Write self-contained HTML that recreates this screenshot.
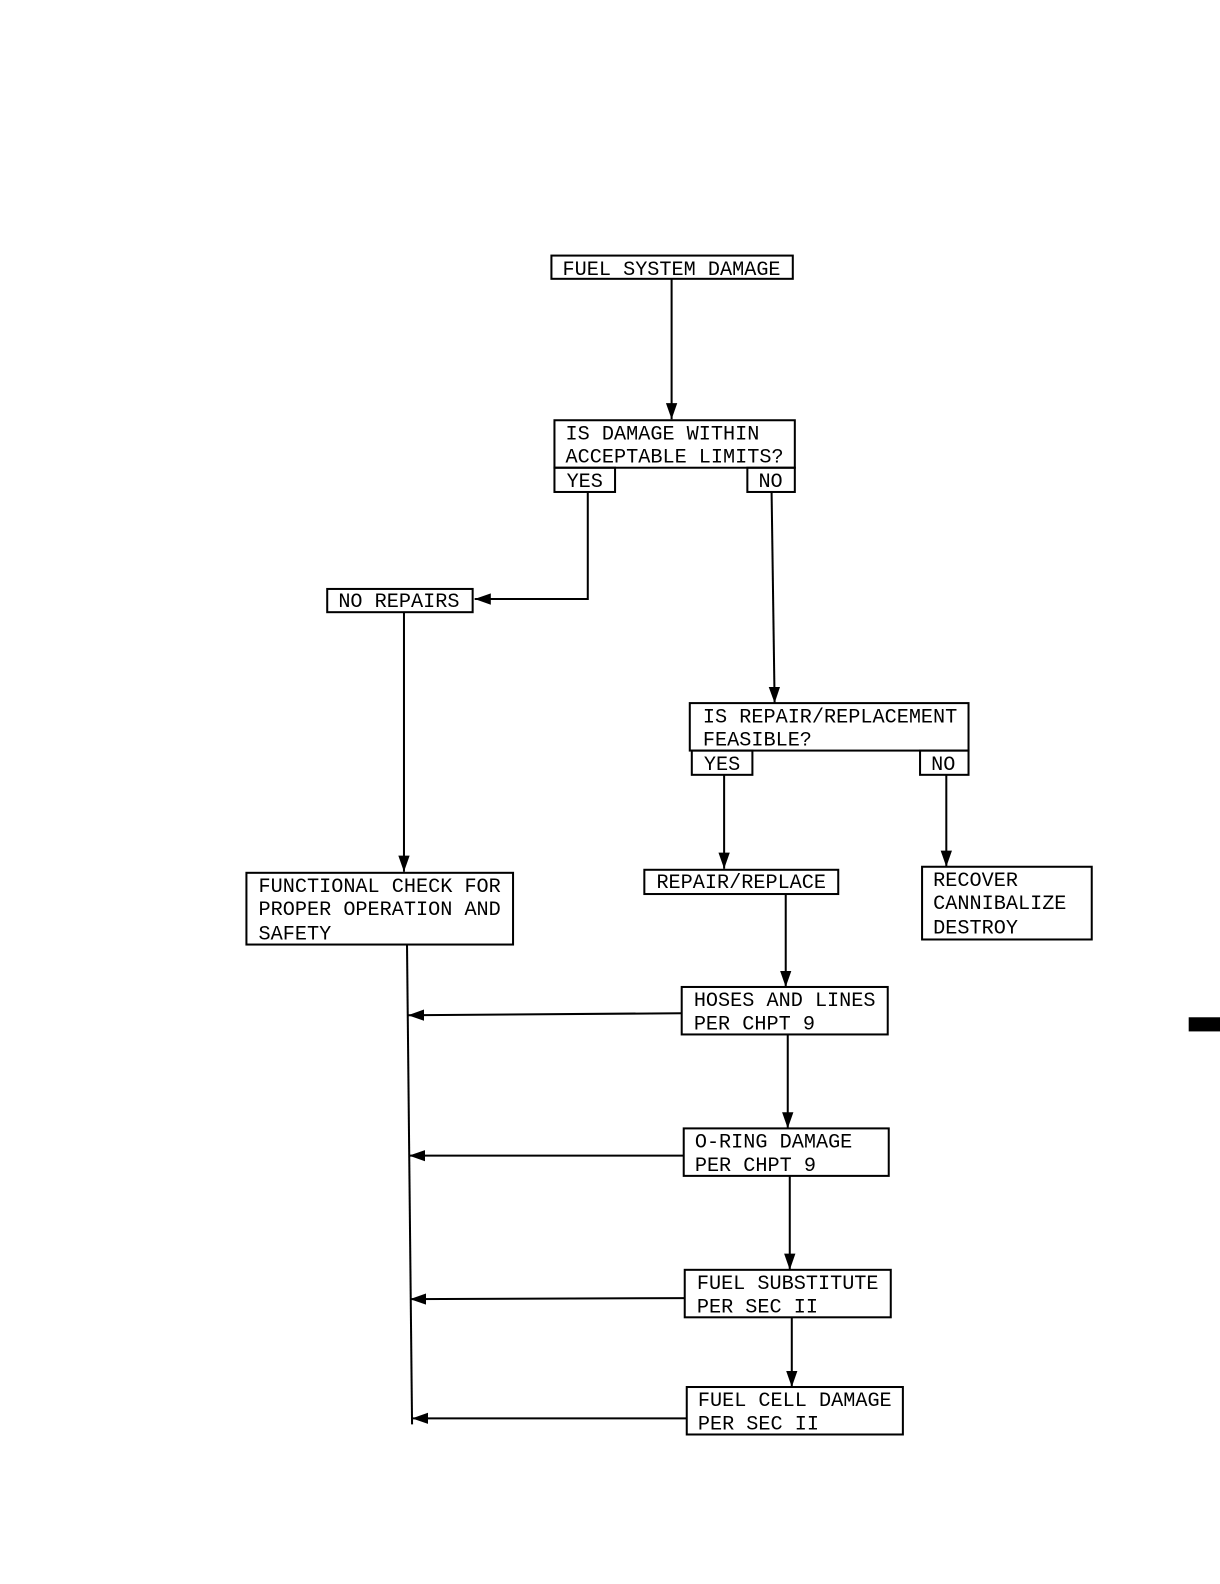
<!DOCTYPE html>
<html><head><style>html,body{margin:0;padding:0;background:#fff}svg{display:block}</style></head>
<body>
<svg width="1220" height="1584" viewBox="0 0 1208 1568" preserveAspectRatio="none" xmlns="http://www.w3.org/2000/svg">
<defs><marker id="a" viewBox="0 0 10 10" refX="10" refY="5" markerWidth="9" markerHeight="9" markerUnits="userSpaceOnUse" orient="auto"><path d="M0,0 L10,5 L0,10 z" fill="#000"/></marker>
<marker id="b" viewBox="0 0 10 10" refX="10" refY="5" markerWidth="16" markerHeight="16" markerUnits="userSpaceOnUse" orient="auto"><path d="M0,1.5 L10,5 L0,8.5 z" fill="#000"/></marker></defs>
<g fill="none" stroke="#000" stroke-width="2">
<rect x="546" y="253" width="239" height="23"/>
<rect x="549" y="416" width="238" height="47"/><rect x="549" y="463" width="60" height="24"/><rect x="740" y="463" width="47" height="24"/>
<rect x="324" y="583" width="144" height="23"/>
<rect x="683" y="696" width="276" height="47"/><rect x="685" y="743" width="60" height="24"/><rect x="911" y="743" width="48" height="24"/>
<rect x="638" y="861" width="192" height="24"/>
<rect x="913" y="858" width="168" height="72"/>
<rect x="244" y="864" width="264" height="71"/>
<rect x="675" y="977" width="204" height="47"/>
<rect x="677" y="1117" width="203" height="47"/>
<rect x="678" y="1257" width="204" height="47"/>
<rect x="680" y="1373" width="214" height="47"/>
<g marker-end="url(#b)">
<line x1="665" y1="276" x2="665" y2="415"/>
<polyline points="582,487 582,593 470,593"/>
<line x1="400" y1="606" x2="400" y2="863"/>
<line x1="764" y1="487" x2="767" y2="696"/>
<line x1="717" y1="767" x2="717" y2="860"/>
<line x1="937" y1="767" x2="937" y2="858"/>
<line x1="778" y1="885" x2="778" y2="977"/>
<line x1="780" y1="1024" x2="780" y2="1117"/>
<line x1="782" y1="1164" x2="782" y2="1257"/>
<line x1="784" y1="1304" x2="784" y2="1373"/>
<line x1="675" y1="1003" x2="404" y2="1005"/>
<line x1="677" y1="1144" x2="405" y2="1144"/>
<line x1="678" y1="1285" x2="406" y2="1286"/>
<line x1="680" y1="1404" x2="408" y2="1404"/>
</g>
<line x1="403" y1="935" x2="408" y2="1410"/>
</g>
<rect x="1177" y="1007" width="31" height="14" fill="#000"/>
<g font-family="'Liberation Mono',monospace" font-size="20" fill="#000">
<text x="557" y="272">FUEL SYSTEM DAMAGE</text>
<text x="560" y="435">IS DAMAGE WITHIN</text>
<text x="560" y="458">ACCEPTABLE LIMITS?</text>
<text x="561" y="482">YES</text><text x="751" y="482">NO</text>
<text x="335" y="601">NO REPAIRS</text>
<text x="696" y="715">IS REPAIR/REPLACEMENT</text>
<text x="696" y="738">FEASIBLE?</text>
<text x="697" y="762">YES</text><text x="922" y="762">NO</text>
<text x="650" y="879">REPAIR/REPLACE</text>
<text x="924" y="877">RECOVER</text>
<text x="924" y="900">CANNIBALIZE</text>
<text x="924" y="924">DESTROY</text>
<text x="256" y="883">FUNCTIONAL CHECK FOR</text>
<text x="256" y="906">PROPER OPERATION AND</text>
<text x="256" y="930">SAFETY</text>
<text x="687" y="996">HOSES AND LINES</text><text x="687" y="1019">PER CHPT 9</text>
<text x="688" y="1136">O-RING DAMAGE</text><text x="688" y="1159">PER CHPT 9</text>
<text x="690" y="1276">FUEL SUBSTITUTE</text><text x="690" y="1299">PER SEC II</text>
<text x="691" y="1392">FUEL CELL DAMAGE</text><text x="691" y="1415">PER SEC II</text>
</g>
</svg>
</body></html>
